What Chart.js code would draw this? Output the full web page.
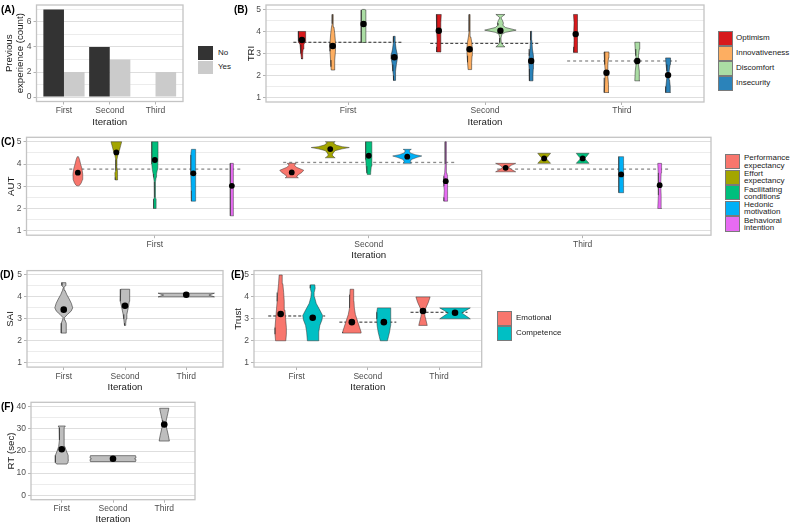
<!DOCTYPE html>
<html><head><meta charset="utf-8">
<script src="https://cdn.jsdelivr.net/npm/chart.js@4.4.1/dist/chart.umd.min.js"></script>
<style>
html,body{margin:0;padding:0;background:#fff;}
#wrap{position:relative;width:800px;height:530px;overflow:hidden;background:#fff;font-family:'Liberation Sans',Arial,Helvetica,sans-serif;}
canvas{position:absolute;}
.tag{position:absolute;font-weight:bold;font-size:10px;line-height:12px;color:#000;white-space:nowrap;}
.key{position:absolute;box-sizing:border-box;}
.lab{position:absolute;white-space:nowrap;font-size:8px;color:#1a1a1a;}
</style></head><body><div id="wrap"></div>
<script>
// ---------- DATA ----------
const iterations = ['First', 'Second', 'Third'];

// (A) previous experience counts
const expSeries = ['No', 'Yes'];
const expNo = [7, 4, 0];
const expYes = [2, 3, 2];

// (B) TRI : density profiles [value, half-density]
const triSeries = ['Optimism', 'Innovativeness', 'Discomfort', 'Insecurity'];
const triMeans = [[3.61, 4.03, 3.88], [3.34, 3.19, 2.13], [4.34, 4.03, 2.66], [2.83, 2.66, 2.02]];
const triOverall = [3.51, 3.46, 2.66];
const triOptimism = [
  [[4.0,0.027],[3.75,0.027],[3.55,0.024],[3.4,0.014],[3.2,0.009],[3.0,0.007],[2.8,0.004],[2.75,0.002]],
  [[4.77,0.018],[4.4,0.016],[4.0,0.015],[3.6,0.013],[3.3,0.015],[3.07,0.016]],
  [[4.77,0.016],[4.4,0.012],[4.0,0.014],[3.6,0.012],[3.3,0.013],[3.05,0.015]]];
const triInnovativeness = [
  [[4.77,0.003],[4.35,0.004],[4.2,0.009],[3.9,0.015],[3.5,0.02],[3.1,0.02],[2.7,0.016],[2.4,0.013],[2.25,0.011]],
  [[4.77,0.003],[4.0,0.004],[3.75,0.009],[3.5,0.016],[3.2,0.02],[2.9,0.018],[2.6,0.015],[2.27,0.011]],
  [[3.07,0.018],[2.8,0.015],[2.5,0.011],[2.2,0.009],[1.9,0.011],[1.6,0.015],[1.23,0.018]]];
const triDiscomfort = [
  [[5.0,0.007],[4.97,0.016],[4.9,0.018],[4.5,0.018],[4.0,0.017],[3.5,0.015]],
  [[4.77,0.033],[4.7,0.018],[4.62,0.004],[4.5,0.015],[4.38,0.022],[4.28,0.018],[4.18,0.037],[4.06,0.115],[3.96,0.037],[3.88,0.011],[3.7,0.004],[3.5,0.006],[3.4,0.015],[3.3,0.033]],
  [[3.51,0.018],[3.2,0.015],[2.9,0.011],[2.7,0.007],[2.5,0.009],[2.2,0.015],[1.76,0.018]]];
const triInsecurity = [
  [[3.78,0.006],[3.5,0.007],[3.2,0.013],[2.95,0.022],[2.75,0.022],[2.5,0.015],[2.2,0.011],[2.0,0.007],[1.78,0.006]],
  [[4.01,0.003],[3.6,0.005],[3.2,0.009],[2.9,0.015],[2.6,0.018],[2.3,0.015],[2.0,0.013],[1.76,0.013]],
  [[2.8,0.018],[2.5,0.015],[2.2,0.009],[2.0,0.007],[1.8,0.011],[1.5,0.016],[1.23,0.018]]];

// (C) AUT
const autSeries = ['Performance expectancy', 'Effort expectancy', 'Facilitating conditions', 'Hedonic motivation', 'Behavioral intention'];
const autMeans = [[3.61, 3.62, 3.83], [4.52, 4.67, 4.25], [4.18, 4.37, 4.25], [3.58, 4.33, 3.53], [3.02, 3.23, 3.05]];
const autOverall = [3.77, 4.07, 3.77];
const autPerformance = [
  [[4.33,0.003],[4.2,0.008],[4.0,0.013],[3.8,0.019],[3.55,0.023],[3.3,0.022],[3.15,0.016],[3.05,0.009],[3.02,0.004]],
  [[4.03,0.021],[3.95,0.012],[3.85,0.023],[3.72,0.056],[3.62,0.047],[3.5,0.028],[3.42,0.023],[3.38,0.031]],
  [[4.03,0.047],[3.95,0.028],[3.85,0.014],[3.75,0.028],[3.65,0.047]]];
const autEffort = [
  [[5.0,0.025],[4.85,0.021],[4.6,0.014],[4.4,0.007],[4.2,0.003],[3.9,0.002],[3.7,0.004],[3.6,0.007],[3.4,0.006],[3.28,0.005]],
  [[5.0,0.023],[4.95,0.014],[4.85,0.028],[4.78,0.056],[4.74,0.089],[4.68,0.056],[4.6,0.023],[4.5,0.014],[4.4,0.009],[4.3,0.019],[4.28,0.023]],
  [[4.48,0.03],[4.35,0.019],[4.25,0.009],[4.15,0.019],[4.03,0.03]]];
const autFacilitating = [
  [[5.0,0.015],[4.3,0.015],[4.0,0.014],[3.75,0.012],[3.55,0.008],[3.4,0.006],[3.2,0.003],[2.5,0.002],[2.42,0.006],[2.0,0.006]],
  [[5.0,0.015],[4.5,0.015],[4.2,0.014],[3.9,0.012],[3.6,0.009],[3.53,0.007]],
  [[4.48,0.03],[4.35,0.019],[4.25,0.009],[4.15,0.019],[4.03,0.03]]];
const autHedonic = [
  [[4.66,0.009],[4.4,0.012],[3.5,0.012],[2.8,0.01],[2.33,0.009]],
  [[4.66,0.019],[4.6,0.009],[4.5,0.014],[4.42,0.037],[4.36,0.068],[4.3,0.047],[4.2,0.019],[4.1,0.014],[4.03,0.019]],
  [[4.33,0.012],[3.8,0.011],[3.2,0.011],[2.71,0.012]]];
const autBehavioral = [
  [[4.03,0.008],[3.5,0.007],[3.0,0.007],[2.5,0.007],[2.0,0.007],[1.67,0.008]],
  [[5.0,0.003],[4.0,0.003],[3.6,0.005],[3.45,0.009],[3.0,0.009],[2.8,0.007],[2.5,0.009],[2.33,0.009]],
  [[4.03,0.009],[3.6,0.007],[3.05,0.005],[2.6,0.007],[2.0,0.009]]];

// (D) SAI
const saiMeans = [3.42, 3.6, 4.1];
const saiDensity = [
  [[4.65,0.035],[4.52,0.03],[4.43,0.006],[4.3,0.02],[4.1,0.05],[3.9,0.09],[3.7,0.125],[3.5,0.146],[3.35,0.12],[3.2,0.06],[3.05,0.01],[2.95,0.02],[2.8,0.04],[2.6,0.042],[2.35,0.04]],
  [[4.35,0.07],[4.2,0.08],[4.0,0.079],[3.8,0.07],[3.6,0.06],[3.4,0.045],[3.2,0.03],[3.0,0.02],[2.8,0.012],[2.7,0.008]],
  [[4.17,0.46],[4.085,0.37],[4.0,0.46]]];

// (E) Trust
const trustSeries = ['Emotional', 'Competence'];
const trustMeans = [[3.22, 2.85, 3.36], [3.05, 2.85, 3.28]];
const trustOverall = [3.13, 2.85, 3.3];
const trustEmotional = [
  [[5.0,0.022],[4.6,0.03],[4.2,0.042],[3.8,0.05],[3.4,0.06],[3.0,0.07],[2.6,0.08],[2.3,0.08],[2.0,0.072]],
  [[4.35,0.025],[4.1,0.028],[3.8,0.03],[3.5,0.035],[3.2,0.05],[2.9,0.08],[2.6,0.11],[2.4,0.13],[2.35,0.13]],
  [[4.0,0.1],[3.75,0.075],[3.5,0.04],[3.3,0.02],[3.1,0.03],[2.9,0.045],[2.7,0.06]]];
const trustCompetence = [
  [[4.55,0.03],[4.4,0.035],[4.2,0.02],[4.0,0.025],[3.7,0.05],[3.4,0.1],[3.15,0.14],[2.95,0.13],[2.7,0.1],[2.4,0.085],[2.0,0.075]],
  [[3.5,0.09],[3.3,0.1],[3.0,0.1],[2.7,0.095],[2.4,0.08],[2.2,0.065],[2.0,0.05]],
  [[3.5,0.215],[3.27,0.095],[3.0,0.215]]];

// (F) RT
const rtMeans = [20.8, 16.5, 32];
const rtDensity = [
  [[31.3,0.07],[30.5,0.05],[28,0.045],[25,0.045],[22,0.06],[20,0.09],[18,0.125],[16,0.13],[14.8,0.12],[14.1,0.1]],
  [[17.9,0.44],[16.9,0.45],[16.5,0.42],[16.1,0.45],[15.2,0.44]],
  [[39.3,0.09],[37,0.07],[34,0.04],[32,0.03],[30,0.05],[27,0.08],[24.5,0.1]]];

// ---------- RENDER ----------
const wrap = document.getElementById('wrap');
Chart.defaults.font.family = "'Liberation Sans', Arial, Helvetica, sans-serif";

const framePlugin = {
  id: 'frame',
  afterDatasetsDraw(chart) {
    const {ctx, chartArea: a} = chart;
    ctx.save();
    ctx.strokeStyle = '#c4c4c4';
    ctx.lineWidth = 1.3;
    ctx.strokeRect(a.left, a.top, a.right - a.left, a.bottom - a.top);
    ctx.restore();
  }
};

function violinPolygon(cx, profile) {
  const pts = profile.map(([v, h]) => ({x: cx - h, y: v}));
  for (let i = profile.length - 1; i >= 0; i--) pts.push({x: cx + profile[i][1], y: profile[i][0]});
  pts.push({x: pts[0].x, y: pts[0].y});
  return pts;
}

function violinSets(series, opt) {
  const ds = [];
  series.forEach(s => {
    s.density.forEach((prof, i) => {
      ds.push({type: 'scatter', data: violinPolygon(i + 1 + s.offset, prof), showLine: true, fill: 'shape',
        backgroundColor: s.color, borderColor: opt.outline, borderWidth: 0.6, pointRadius: 0, pointHoverRadius: 0, tension: 0, order: 1});
    });
    ds.push({type: 'scatter', data: s.mean.map((m, i) => ({x: i + 1 + s.offset, y: m})), pointRadius: opt.r,
      pointBackgroundColor: '#000', pointBorderWidth: 0, showLine: false, order: 0});
  });
  (opt.overall || []).forEach((g, i) => {
    const st = opt.dashStyle[i];
    ds.push({type: 'scatter', data: [{x: i + 1 - 0.4, y: g}, {x: i + 1 + 0.4, y: g}], showLine: true, fill: false,
      borderColor: st.color, borderWidth: st.w, borderDash: st.dash, pointRadius: 0, order: 2});
  });
  return ds;
}

function makeChart(p) {
  const [L, T, R, B] = p.plot;
  const cx0 = p.canvasLeft, cy0 = Math.floor(T - 8);
  const cx1 = Math.ceil(R + 6), cy1 = Math.ceil(B + 27);
  const c = document.createElement('canvas');
  c.width = cx1 - cx0; c.height = cy1 - cy0;
  c.style.left = cx0 + 'px'; c.style.top = cy0 + 'px';
  c.style.width = c.width + 'px'; c.style.height = c.height + 'px';
  wrap.appendChild(c);
  const lh = 9.7 * 1.15;
  const xTitlePad = (cy1 - p.xTitleY) - lh / 2;
  const yTitlePad = (p.yTitleX - cx0) - lh / 2;
  const all = [...p.yMajor, ...p.yMinor].sort((a, b) => a - b);
  const isMajor = v => p.yMajor.some(m => Math.abs(m - v) < 1e-9);
  return new Chart(c, {
    type: p.type,
    data: {datasets: p.datasets},
    options: {
      responsive: false, animation: false, devicePixelRatio: 1, events: [],
      layout: {padding: {left: 0, top: T - cy0, right: cx1 - R, bottom: 0}},
      plugins: {legend: {display: false}, tooltip: {enabled: false}},
      scales: {
        x: {type: 'linear', min: 0.4, max: 3.6, bounds: 'data', offset: false,
          afterBuildTicks: s => { s.ticks = [1, 2, 3].map(v => ({value: v})); },
          afterFit: s => { s.height = cy1 - B; },
          ticks: {autoSkip: false, maxRotation: 0, padding: 1, color: '#4d4d4d', font: {size: 8.5},
            callback: v => iterations[Math.round(v) - 1]},
          grid: {offset: false, drawOnChartArea: false, drawTicks: true, tickLength: 3, tickColor: '#b3b3b3', color: 'rgba(0,0,0,0)'},
          border: {display: false},
          title: {display: true, text: 'Iteration', color: '#1a1a1a', font: {size: 9.7, lineHeight: 1.15}, padding: {top: 0, bottom: xTitlePad}}},
        y: {type: 'linear', min: p.yMin, max: p.yMax, bounds: 'data', beginAtZero: false,
          afterBuildTicks: s => { s.ticks = all.map(v => ({value: v})); },
          afterFit: s => { s.width = L - cx0; },
          ticks: {autoSkip: false, padding: 2, color: '#4d4d4d', font: {size: 8.5}, callback: v => isMajor(v) ? String(v) : ''},
          grid: {drawTicks: true, tickLength: 3, lineWidth: 1,
            color: ctx => (ctx.tick && isMajor(ctx.tick.value)) ? '#dedede' : '#ececec',
            tickColor: ctx => (ctx.tick && isMajor(ctx.tick.value)) ? '#b3b3b3' : 'rgba(0,0,0,0)'},
          border: {display: false},
          title: {display: true, text: p.yTitle, color: '#1a1a1a', font: {size: 9.7, lineHeight: 1.15}, padding: {top: yTitlePad, bottom: 0}}}
      }
    },
    plugins: [framePlugin]
  });
}

// (A)
makeChart({type: 'bar', canvasLeft: 0, plot: [36.5, 5, 183, 101.5], yMin: -0.35, yMax: 7.35,
  yMajor: [0, 2, 4, 6], yMinor: [1, 3, 5, 7], yTitle: ['Previous', 'experience (count)'], yTitleX: 9.3, xTitleY: 122.5,
  datasets: [
    {label: expSeries[0], data: expNo.map((v, i) => ({x: i + 1, y: v})), backgroundColor: '#333333', borderWidth: 0, categoryPercentage: 0.9, barPercentage: 1},
    {label: expSeries[1], data: expYes.map((v, i) => ({x: i + 1, y: v})), backgroundColor: '#cbcbcb', borderWidth: 0, categoryPercentage: 0.9, barPercentage: 1}
  ]});

// (B)
const triColors = ['#D7191C', '#FDAE61', '#ABDDA4', '#2B83BA'];
const triOffsets = [-0.3375, -0.1125, 0.1125, 0.3375];
const triDens = [triOptimism, triInnovativeness, triDiscomfort, triInsecurity];
makeChart({type: 'scatter', canvasLeft: 240, plot: [266, 5, 704, 102], yMin: 0.8, yMax: 5.2,
  yMajor: [1, 2, 3, 4, 5], yMinor: [1.5, 2.5, 3.5, 4.5], yTitle: 'TRI', yTitleX: 251, xTitleY: 122.5,
  datasets: violinSets(triSeries.map((n, k) => ({density: triDens[k], mean: triMeans[k], color: triColors[k], offset: triOffsets[k]})),
    {outline: 'rgba(30,30,30,0.85)', r: 3.2, overall: triOverall,
     dashStyle: [{color: '#111', w: 0.9, dash: [3, 2]}, {color: '#111', w: 0.9, dash: [3, 2]}, {color: '#8a8a8a', w: 1.3, dash: [3, 3]}]})});

// (C)
const autColors = ['#F8766D', '#A3A500', '#00BF7D', '#00B0F6', '#E76BF3'];
const autOffsets = [-0.36, -0.18, 0, 0.18, 0.36];
const autDens = [autPerformance, autEffort, autFacilitating, autHedonic, autBehavioral];
const grayDash = {color: '#8a8a8a', w: 1.3, dash: [3, 3]};
makeChart({type: 'scatter', canvasLeft: 0, plot: [26.5, 137.3, 711, 235.2], yMin: 0.8, yMax: 5.2,
  yMajor: [1, 2, 3, 4, 5], yMinor: [1.5, 2.5, 3.5, 4.5], yTitle: 'AUT', yTitleX: 11.7, xTitleY: 255,
  datasets: violinSets(autSeries.map((n, k) => ({density: autDens[k], mean: autMeans[k], color: autColors[k], offset: autOffsets[k]})),
    {outline: 'rgba(50,50,50,0.8)', r: 2.9, overall: autOverall, dashStyle: [grayDash, grayDash, grayDash]})});

// (D)
makeChart({type: 'scatter', canvasLeft: 0, plot: [27, 270.6, 223, 367.1], yMin: 0.8, yMax: 5.2,
  yMajor: [1, 2, 3, 4, 5], yMinor: [1.5, 2.5, 3.5, 4.5], yTitle: 'SAI', yTitleX: 10, xTitleY: 387.5,
  datasets: violinSets([{density: saiDensity, mean: saiMeans, color: '#bebebe', offset: 0}], {outline: '#333', r: 3.3})});

// (E)
const trustColors = ['#F8766D', '#00BFC4'];
const trustOffsets = [-0.225, 0.225];
const trustDens = [trustEmotional, trustCompetence];
const blackDash = {color: '#111', w: 0.9, dash: [3, 2]};
makeChart({type: 'scatter', canvasLeft: 228, plot: [254, 270.6, 481.7, 367.1], yMin: 0.8, yMax: 5.2,
  yMajor: [1, 2, 3, 4, 5], yMinor: [1.5, 2.5, 3.5, 4.5], yTitle: 'Trust', yTitleX: 238, xTitleY: 387.5,
  datasets: violinSets(trustSeries.map((n, k) => ({density: trustDens[k], mean: trustMeans[k], color: trustColors[k], offset: trustOffsets[k]})),
    {outline: 'rgba(50,50,50,0.85)', r: 3.3, overall: trustOverall, dashStyle: [blackDash, blackDash, blackDash]})});

// (F)
makeChart({type: 'scatter', canvasLeft: 0, plot: [31, 402.3, 195, 499.7], yMin: -2, yMax: 42,
  yMajor: [0, 10, 20, 30, 40], yMinor: [5, 15, 25, 35], yTitle: 'RT (sec)', yTitleX: 11.7, xTitleY: 519.3,
  datasets: violinSets([{density: rtDensity, mean: rtMeans, color: '#bebebe', offset: 0}], {outline: '#333', r: 3.3})});

// ---------- tags & legends (text) ----------
function addTag(t, x, y) {
  const d = document.createElement('div'); d.className = 'tag'; d.textContent = t;
  d.style.left = x + 'px'; d.style.top = y + 'px'; wrap.appendChild(d);
}
addTag('(A)', 1, 4); addTag('(B)', 234, 4); addTag('(C)', 1, 136);
addTag('(D)', 0, 269); addTag('(E)', 231, 269); addTag('(F)', 1, 401);

function addLegend(names, colors, x, y0, w, h, step, border, labX, twoLine) {
  names.forEach((n, i) => {
    const k = document.createElement('div'); k.className = 'key';
    k.style.left = x + 'px'; k.style.top = (y0 + i * step) + 'px';
    k.style.width = w + 'px'; k.style.height = h + 'px';
    k.style.background = colors[i];
    if (border) k.style.border = '1px solid ' + border;
    wrap.appendChild(k);
    const l = document.createElement('div'); l.className = 'lab';
    if (twoLine) {
      const parts = n.split(' ');
      l.innerHTML = parts[0] + '<br>' + parts.slice(1).join(' ');
      l.style.lineHeight = '7.2px';
      l.style.top = (y0 + i * step + h / 2 - 7.2) + 'px';
    } else {
      l.textContent = n;
      l.style.lineHeight = '10px';
      l.style.top = (y0 + i * step + h / 2 - 5) + 'px';
    }
    l.style.left = labX + 'px';
    wrap.appendChild(l);
  });
}
addLegend(expSeries, ['#333333', '#cbcbcb'], 198, 46, 15, 13.5, 14.7, null, 218, false);
addLegend(triSeries, triColors, 718, 31, 15, 14.5, 15, '#7a7a7a', 736, false);
addLegend(autSeries, autColors, 725, 154, 15, 15.2, 15.6, '#7a7a7a', 744, true);
addLegend(trustSeries, trustColors, 497, 311, 15, 14.5, 15, '#7a7a7a', 516, false);
</script></body></html>
